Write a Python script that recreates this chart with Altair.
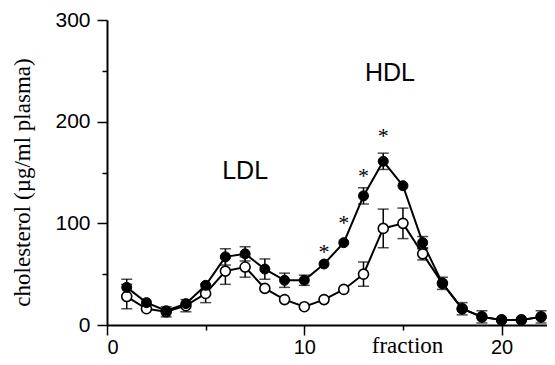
import altair as alt
import pandas as pd

fraction = list(range(1, 23))
filled = [37, 22, 14, 21, 39, 67, 70, 55, 44, 44, 60, 81, 127, 161, 137, 81, 41, 16, 8, 5, 5, 8]
filled_err = [8, 0, 0, 0, 0, 8, 7, 10, 7, 5, 0, 0, 8, 8, 0, 6, 0, 0, 0, 0, 0, 0]
open_ = [28, 16, 13, 19, 31, 53, 57, 36, 25, 18, 25, 35, 50, 95, 100, 70, 41, 16, 8, 5, 5, 8]
open_err = [12, 0, 5, 6, 9, 13, 10, 0, 0, 0, 0, 0, 12, 19, 15, 6, 6, 6, 6, 0, 0, 6]

star_x = [11, 12, 13, 14]
star_y = [72, 100, 147, 186]

label_text = ["LDL", "HDL"]
label_x = [7.0, 14.34]
label_y = [151, 248]

rows = []
for i, f in enumerate(fraction):
    rows.append({"fraction": f, "value": filled[i], "err": filled_err[i], "series": "filled"})
    rows.append({"fraction": f, "value": open_[i], "err": open_err[i], "series": "open"})
df = pd.DataFrame(rows)
df["lo"] = df["value"] - df["err"]
df["hi"] = df["value"] + df["err"]
df_err = df[df["err"] > 0]

stars = pd.DataFrame({"x": star_x, "y": star_y})
labels = pd.DataFrame({"text": label_text, "x": label_x, "y": label_y})

xscale = alt.Scale(domain=[0, 22.3], nice=False, zero=False)
yscale = alt.Scale(domain=[0, 300], nice=False)

xaxis = alt.Axis(
    values=[0, 5, 10, 15, 20],
    labelExpr="datum.value % 10 === 0 ? datum.label : ''",
    tickSize={"condition": {"test": "datum.value % 10 === 0", "value": 10}, "value": 5},
    tickColor="black", domainColor="black", tickWidth=1.5, domainWidth=2,
    labelFont="Liberation Sans", labelFontSize=20, labelColor="black", labelPadding=18,
    labelBaseline="alphabetic",
    grid=False, title="fraction", titleFont="Liberation Serif", titleFontSize=23,
    titleFontWeight="normal", titleColor="black",
    titleX=300, titleY=27, titleBaseline="alphabetic", titleAnchor="middle",
)
yaxis = alt.Axis(
    values=[0, 50, 100, 150, 200, 250, 300],
    labelExpr="datum.value % 100 === 0 ? datum.label : ''",
    tickSize={"condition": {"test": "datum.value % 100 === 0", "value": 10}, "value": 5},
    tickColor="black", domainColor="black", tickWidth=1.5, domainWidth=2,
    labelFont="Liberation Sans", labelFontSize=21, labelColor="black", labelPadding=7,
    grid=False, title="cholesterol (µg/ml plasma)", titleFont="Liberation Serif",
    titleFontSize=23, titleFontWeight="normal", titleColor="black",
    titleX=-85, titleY=162, titleAngle=-90, titleAnchor="middle", titleBaseline="middle",
)

base = alt.Chart(df)
X = alt.X("fraction:Q", scale=xscale, axis=xaxis)
Y = alt.Y("value:Q", scale=yscale, axis=yaxis)

lines = base.mark_line(color="black", strokeWidth=2).encode(
    x=X, y=Y, detail="series:N"
)
rules = alt.Chart(df_err).mark_rule(color="black", strokeWidth=1.5).encode(
    x=alt.X("fraction:Q", scale=xscale), y=alt.Y("lo:Q", scale=yscale), y2="hi:Q"
)
caps_lo = alt.Chart(df_err).mark_tick(color="black", orient="horizontal", size=11, thickness=1.5).encode(
    x=alt.X("fraction:Q", scale=xscale), y=alt.Y("lo:Q", scale=yscale)
)
caps_hi = alt.Chart(df_err).mark_tick(color="black", orient="horizontal", size=11, thickness=1.5).encode(
    x=alt.X("fraction:Q", scale=xscale), y=alt.Y("hi:Q", scale=yscale)
)
open_pts = alt.Chart(df[df["series"] == "open"]).mark_point(
    shape="circle", size=100, filled=True, fill="white", stroke="black", strokeWidth=1.6, opacity=1
).encode(x=alt.X("fraction:Q", scale=xscale), y=alt.Y("value:Q", scale=yscale))
filled_pts = alt.Chart(df[df["series"] == "filled"]).mark_point(
    shape="circle", size=100, filled=True, fill="black", stroke="black", strokeWidth=1, opacity=1
).encode(x=alt.X("fraction:Q", scale=xscale), y=alt.Y("value:Q", scale=yscale))

star_marks = alt.Chart(stars).mark_text(
    text="*", font="Liberation Serif", fontSize=22, color="black", baseline="middle"
).encode(x=alt.X("x:Q", scale=xscale), y=alt.Y("y:Q", scale=yscale))

label_marks = alt.Chart(labels).mark_text(
    font="Liberation Sans", fontSize=25, color="black", baseline="middle", align="center"
).encode(x=alt.X("x:Q", scale=xscale), y=alt.Y("y:Q", scale=yscale), text="text:N")

chart = alt.layer(
    lines, rules, caps_lo, caps_hi, open_pts, filled_pts, star_marks, label_marks
).properties(
    width=440, height=305,
    autosize=alt.AutoSizeParams(type="none"),
    padding={"left": 99, "top": 12, "right": 0, "bottom": 32},
    background="white",
).configure_view(stroke=None)

chart.save("out.html", embed_options={"renderer": "svg", "actions": False})
